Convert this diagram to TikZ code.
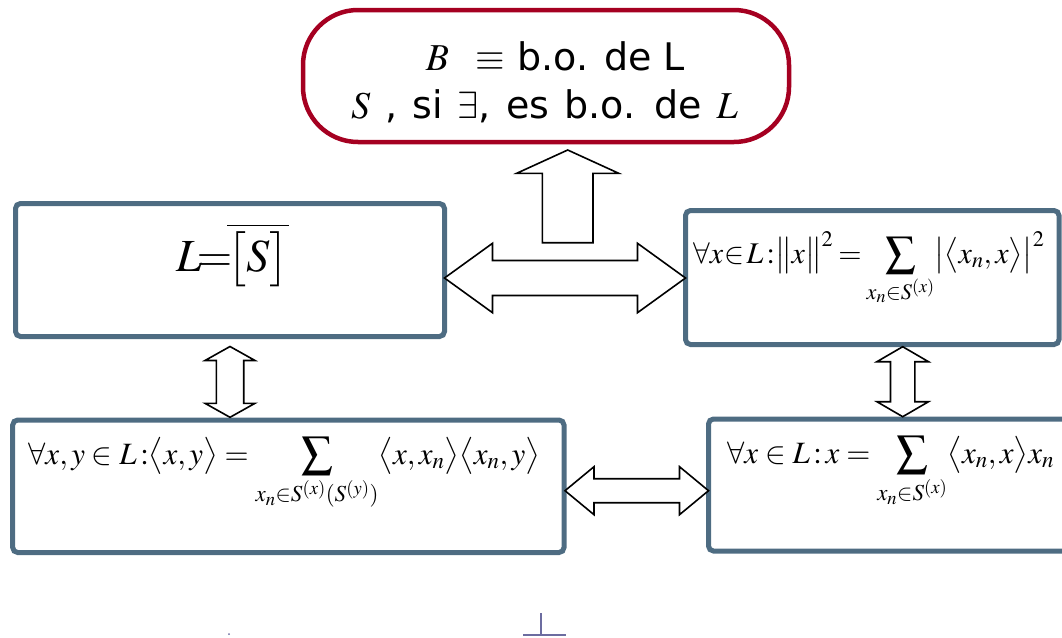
\documentclass[tikz,border=0pt]{standalone}
\usepackage[no-math]{fontspec}
\usepackage{mathptmx}
\newfontfamily\verd{DejaVu Sans}
\usetikzlibrary{calc}
\definecolor{boxc}{RGB}{78,108,130}
\definecolor{redc}{RGB}{165,0,33}
\definecolor{markc}{RGB}{108,108,160}
\tikzset{
  panel/.style={draw=boxc, line width=5pt, rounded corners=5pt, inner sep=0pt, outer sep=0pt},
  topbox/.style={draw=redc, line width=4.5pt, rounded corners=55pt, inner sep=0pt, outer sep=0pt},
  blockarrow/.style={draw=black, line width=1.6pt, fill=white, line join=miter},
  formula/.style={inner sep=0pt, anchor=base west, font=\fontsize{31}{37}\selectfont},
  toptext/.style={inner sep=0pt, anchor=base, font=\verd\fontsize{38}{48}\selectfont},
}
% horizontal double block arrow: left tip, right tip, head length, half head, half shaft
\newcommand\hdarrow[5]{%
  \draw[blockarrow] let \p1=(#1), \p2=(#2) in
    (\x1,\y1) -- (\x1+#3,\y1+#4) -- (\x1+#3,\y1+#5) -- (\x2-#3,\y2+#5) -- (\x2-#3,\y2+#4)
    -- (\x2,\y2) -- (\x2-#3,\y2-#4) -- (\x2-#3,\y2-#5) -- (\x1+#3,\y1-#5) -- (\x1+#3,\y1-#4) -- cycle;}
% vertical double block arrow: top tip, bottom tip, head length, half head, half shaft
\newcommand\vdarrow[5]{%
  \draw[blockarrow] let \p1=(#1), \p2=(#2) in
    (\x1,\y1) -- (\x1+#4,\y1-#3) -- (\x1+#5,\y1-#3) -- (\x2+#5,\y2+#3) -- (\x2+#4,\y2+#3)
    -- (\x2,\y2) -- (\x2-#4,\y2+#3) -- (\x2-#5,\y2+#3) -- (\x1-#5,\y1-#3) -- (\x1-#4,\y1-#3) -- cycle;}
% single up block arrow: base, tip, head length, half head, half shaft
\newcommand\uparr[5]{%
  \draw[blockarrow] let \p1=(#1), \p2=(#2) in
    (\x1-#5,\y1) -- (\x2-#5,\y2-#3) -- (\x2-#4,\y2-#3) -- (\x2,\y2) -- (\x2+#4,\y2-#3)
    -- (\x2+#5,\y2-#3) -- (\x1+#5,\y1) -- cycle;}
\begin{document}
\begin{tikzpicture}[x=1pt, y=-1pt]
\useasboundingbox (0,0) rectangle (1062,637);
\clip (0,0) rectangle (1062,637);

% boxes
\node[topbox, minimum width=486, minimum height=132] (top) at (546,76) {};
\node[panel, minimum width=429, minimum height=133] (TL) at (230,270) {};
\node[panel, minimum width=373.5, minimum height=134] (TR) at (872.25,277.5) {};
\node[panel, minimum width=551.3, minimum height=132.5] (BL) at (288.35,486.25) {};
\node[panel, minimum width=366.5, minimum height=132] (BR) at (891.75,485) {};

% texts
\node[toptext] (t1) at (555.5,70) {$B$\hspace{0.7em}$\equiv$ b.o. de L};
\node[toptext] (t2) at (544.5,118) {\spaceskip=15pt\relax $S$ , si $\exists$, es b.o. de $L$};

\node[inner sep=0pt, anchor=base, font=\fontsize{46}{56}\selectfont] (f0) at (232.5,271)
  {$L\!{=}\!\overline{\bigl[S\bigr]}$};
\node[formula, font=\fontsize{30}{36}\selectfont] (f1) at (693,263)
  {$\thickmuskip=3mu\forall x\!\in\! L\,{:}\bigl\|x\bigr\|^2=\displaystyle\sum_{x_n\in S^{(x)}}\bigl|\bigl\langle x_n,x\bigr\rangle\bigr|^2$};
\node[formula] (f2) at (28,464)
  {$\forall x,y\in L\,{:}\bigl\langle x,y\bigr\rangle=\displaystyle\sum_{x_n\in S^{(x)}(S^{(y)})}\bigl\langle x,x_n\bigr\rangle\bigl\langle x_n,y\bigr\rangle$};
\node[formula] (f3) at (727,463)
  {$\forall x\in L\,{:}\,x=\displaystyle\sum_{x_n\in S^{(x)}}\bigl\langle x_n,x\bigr\rangle x_n$};

% connector end points
\coordinate (h1a) at (TL.east |- 0,278);
\coordinate (h1b) at (TR.west |- 0,278);
\coordinate (h2a) at ($(BL.east |- 0,490.7)+(1,0)$);
\coordinate (h2b) at (BR.west |- 0,490.7);
\coordinate (v1a) at ($(TL.south)+(0,10)$);
\coordinate (v1b) at ($(v1a |- BL.north)+(0,-2.7)$);
\coordinate (v2a) at ($(TR.south -| 902.7,0)+(0,2.2)$);
\coordinate (v2b) at ($(v2a |- BR.north)+(0,-2.3)$);
\coordinate (u0) at (567.7,242.7);
\coordinate (u1) at ($(u0 |- top.south)+(0,8)$);

% block arrows
\uparr{u0}{u1}{23.3pt}{51pt}{25.3pt}
\hdarrow{h1a}{h1b}{48pt}{34.7pt}{17.5pt}
\vdarrow{v1a}{v1b}{14pt}{25pt}{13.7pt}
\vdarrow{v2a}{v2b}{15pt}{25.8pt}{12.2pt}
\hdarrow{h2a}{h2b}{29pt}{24pt}{12pt}

% stray marks at the bottom
\draw[markc, line width=1.5pt] (523,635) -- (566,635) (541,613) -- (541,635);
\fill[markc] (229,634) circle (1pt);
\end{tikzpicture}
\end{document}
